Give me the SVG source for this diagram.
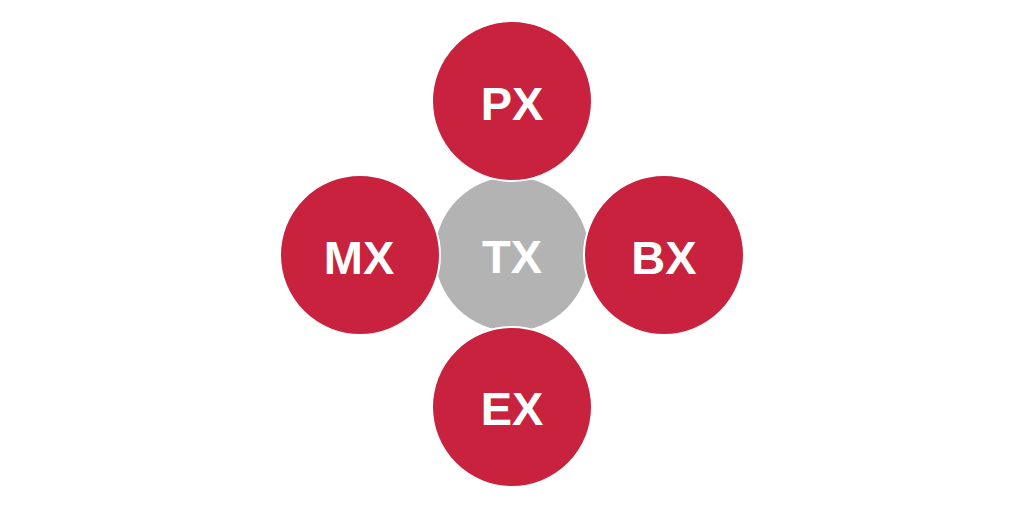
<svg xmlns="http://www.w3.org/2000/svg" width="1024" height="510" viewBox="0 0 1024 510">
<style>
.red{fill:#c8223e;stroke:#ffffff;stroke-width:2}
.gray{fill:#b3b3b3}
.lbl{font-family:"Liberation Sans",Arial,sans-serif;font-weight:bold;font-size:47px;fill:#ffffff;text-anchor:middle}
</style>
<rect width="1024" height="510" fill="#ffffff"/>
<g id="connectors"></g>
<g id="TX"><circle class="gray" cx="512" cy="254" r="77"/><text class="lbl" x="512" y="273">TX</text></g>
<g id="PX"><circle class="red" cx="512" cy="101" r="80"/><text class="lbl" x="512" y="120">PX</text></g>
<g id="MX"><circle class="red" cx="360" cy="255" r="80"/><text class="lbl" x="359" y="274">MX</text></g>
<g id="BX"><circle class="red" cx="664" cy="255" r="80"/><text class="lbl" x="664" y="274">BX</text></g>
<g id="EX"><circle class="red" cx="512" cy="407" r="80"/><text class="lbl" x="512" y="425">EX</text></g>
</svg>
